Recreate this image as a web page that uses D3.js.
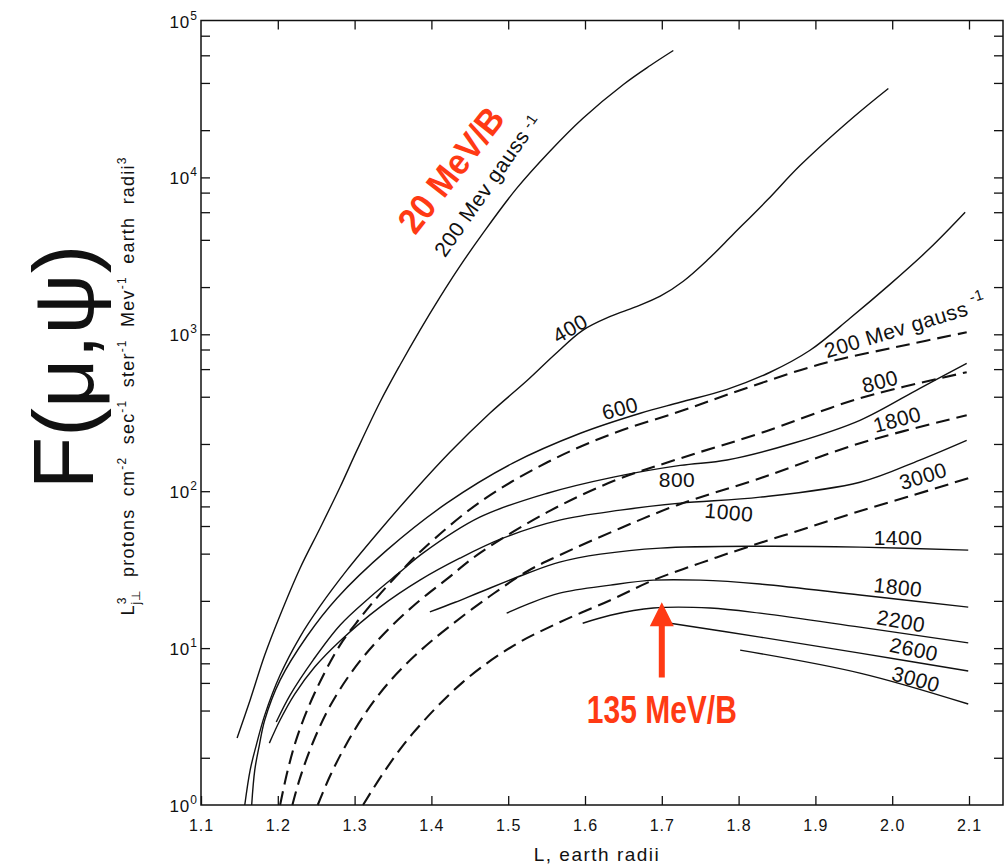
<!DOCTYPE html>
<html>
<head>
<meta charset="utf-8">
<script src="https://cdn.jsdelivr.net/npm/d3@7"></script>
<style>
  body { margin: 0; background: #fff; }
  svg { display: block; }
  text { font-family: "Liberation Sans", Arial, sans-serif; fill: #111; white-space: pre; }
</style>
</head>
<body>
<svg id="chart" width="1005" height="868"></svg>
<script>
// axis ticks
const xTicks = [1.1, 1.2, 1.3, 1.4, 1.5, 1.6, 1.7, 1.8, 1.9, 2.0, 2.1]
const yDecades = [1, 10, 100, 1000, 10000, 100000]
const yMinorSteps = [2, 4, 6, 8]

// curves: [L (earth radii), L^3 j flux]
// solid = constant mu (Mev gauss^-1)
const solid200 = [[1.147, 2.67], [1.164, 4.67], [1.183, 9.03], [1.203, 16.2], [1.229, 32.3], [1.255, 58.1], [1.281, 106], [1.303, 182], [1.333, 369], [1.359, 635], [1.385, 1060], [1.411, 1720], [1.437, 2710], [1.467, 4400], [1.511, 8510], [1.554, 14640], [1.597, 23760], [1.650, 39130], [1.685, 51680], [1.715, 64400]]
const solid400 = [[1.157, 1.0], [1.164, 1.67], [1.172, 2.41], [1.183, 3.74], [1.203, 6.73], [1.229, 11.8], [1.255, 18.5], [1.290, 31.4], [1.333, 56.4], [1.376, 98.5], [1.424, 177], [1.476, 314], [1.525, 509], [1.561, 746], [1.597, 1060], [1.633, 1300], [1.665, 1490], [1.698, 1750], [1.728, 2180], [1.759, 2960], [1.793, 4340], [1.837, 7140], [1.880, 11900], [1.949, 24100], [1.995, 36900]]
const solid600 = [[1.166, 1.0], [1.170, 1.67], [1.176, 2.41], [1.183, 3.48], [1.203, 6.25], [1.238, 11.9], [1.277, 20.8], [1.342, 42.1], [1.420, 83.9], [1.506, 151], [1.594, 234], [1.672, 314], [1.724, 369], [1.785, 446], [1.841, 573], [1.893, 791], [1.945, 1265], [1.997, 2080], [2.049, 3530], [2.095, 5990]]
const solid800 = [[1.198, 3.38], [1.216, 5.02], [1.246, 8.39], [1.281, 14.0], [1.320, 21.1], [1.359, 30.5], [1.389, 40.3], [1.463, 68.3], [1.551, 97.1], [1.637, 123], [1.724, 146], [1.785, 158], [1.871, 202], [1.958, 283], [2.036, 453], [2.097, 653]]
const solid1000 = [[1.189, 2.48], [1.203, 3.48], [1.222, 5.09], [1.248, 7.57], [1.281, 11.1], [1.333, 18.25], [1.385, 27.1], [1.437, 37.4], [1.493, 50.2], [1.567, 65.4], [1.646, 75.7], [1.724, 83.9], [1.828, 91.6], [1.958, 114], [2.036, 158], [2.097, 211]]
const solid1400 = [[1.398, 17.0], [1.431, 19.6], [1.463, 22.7], [1.525, 30.0], [1.567, 35.3], [1.620, 39.7], [1.698, 43.4], [1.828, 44.6], [1.958, 44.0], [2.099, 42.1]]
const solid1800 = [[1.498, 16.7], [1.528, 19.3], [1.567, 22.4], [1.633, 25.2], [1.689, 27.1], [1.750, 27.1], [1.828, 25.6], [1.958, 21.8], [2.099, 18.25]]
const solid2200 = [[1.597, 14.4], [1.633, 16.2], [1.689, 18.0], [1.763, 18.0], [1.828, 16.7], [1.958, 13.6], [2.099, 10.8]]
const solid2600 = [[1.711, 14.4], [1.828, 11.75], [1.958, 9.29], [2.099, 7.14]]
const solid3000 = [[1.802, 9.71], [1.958, 6.93], [2.099, 4.40]]
// dashed = constant energy (Mev)
const dashed200 = [[1.203, 1.0], [1.213, 1.67], [1.226, 2.79], [1.248, 5.17], [1.281, 10.45], [1.307, 15.5], [1.333, 22.1], [1.363, 31.85], [1.389, 42.7], [1.463, 85.1], [1.551, 153], [1.637, 234], [1.724, 323], [1.802, 440], [1.906, 644], [2.010, 839], [2.097, 1030]]
const dashed800 = [[1.219, 1.0], [1.229, 1.49], [1.246, 2.52], [1.268, 4.27], [1.298, 7.24], [1.333, 11.6], [1.376, 18.5], [1.420, 27.5], [1.463, 40.3], [1.551, 73.5], [1.637, 116], [1.724, 162], [1.828, 234], [1.958, 391], [2.097, 573]]
const dashed1800 = [[1.252, 1.0], [1.268, 1.53], [1.288, 2.38], [1.314, 3.85], [1.346, 6.16], [1.385, 9.57], [1.424, 13.8], [1.476, 21.4], [1.525, 30.9], [1.567, 39.1], [1.646, 58.1], [1.720, 81.5], [1.828, 121], [1.958, 202], [2.097, 305]]
const dashed3000 = [[1.311, 1.0], [1.340, 1.67], [1.376, 2.87], [1.441, 6.07], [1.506, 10.3], [1.567, 14.6], [1.633, 20.2], [1.689, 27.1], [1.750, 34.8], [1.811, 44.0], [1.880, 56.4], [1.949, 72.4], [2.023, 92.9], [2.099, 121]]

const solidCurves = [solid200, solid400, solid600, solid800, solid1000, solid1400, solid1800, solid2200, solid2600, solid3000]
const dashedCurves = [dashed200, dashed800, dashed1800, dashed3000]

// curve labels: text, anchor [L, F], rotation
const solidLabels = [
    ['400', 1.5805, 1092, -30],
    ['600', 1.6456, 338, -15],
    ['800', 1.7198, 119, 0],
    ['1000', 1.7875, 73.5, 5],
    ['1400', 2.0076, 50.9, 0],
    ['1800', 2.0076, 24.5, 6],
    ['2200', 2.0115, 14.9, 10],
    ['2600', 2.0284, 9.85, 12],
    ['3000', 2.031, 6.35, 15]
]
const dashedLabels = [
    ['800', 1.9841, 502, -15],
    ['1800', 2.0063, 287, -15],
    ['3000', 2.0401, 125, -17]
]

// layout
const frame = { left: 201, right: 1003, top: 20.5, bottom: 805 }
const red = '#ff3a14'

const svg = d3.select('#chart')

const x = d3.scaleLinear().domain([1.1, 2.1]).range([201, 969])
const y = d3.scaleLog().domain([1, 1e5]).range([frame.bottom, frame.top])

const yTickVals = yDecades.flatMap(d => d < 1e5 ? [d, ...yMinorSteps.map(s => s * d)] : [d])
const innerTicks = yTickVals.filter(v => v > 1 && v < 1e5)

// axes (inward ticks)
const styleAxis = g => {
    g.select('.domain').remove()
    g.selectAll('line').attr('stroke', '#111').attr('stroke-width', 1.3)
}

svg.append('g')
    .attr('transform', `translate(0,${frame.bottom})`)
    .call(d3.axisBottom(x).tickValues(xTicks).tickSize(-9).tickPadding(15)
        .tickFormat(d3.format('.1f')))
    .call(styleAxis)
    .call(g => g.selectAll('text')
        .style('font-size', '16px')
        .style('font-family', '"Liberation Sans", Arial, sans-serif')
        .style('letter-spacing', '1px')
        .attr('fill', '#111'))

svg.append('g')
    .attr('transform', `translate(0,${frame.top})`)
    .call(d3.axisTop(x).tickValues(xTicks.slice(1)).tickSize(-9).tickFormat(''))
    .call(styleAxis)

svg.append('g')
    .attr('transform', `translate(${frame.left},0)`)
    .call(d3.axisLeft(y).tickValues(innerTicks).tickSize(-9).tickFormat(''))
    .call(styleAxis)

svg.append('g')
    .attr('transform', `translate(${frame.right},0)`)
    .call(d3.axisRight(y).tickValues(innerTicks).tickSize(-9).tickFormat(''))
    .call(styleAxis)

svg.append('rect')
    .attr('x', frame.left)
    .attr('y', frame.top)
    .attr('width', frame.right - frame.left)
    .attr('height', frame.bottom - frame.top)
    .attr('fill', 'none')
    .attr('stroke', '#111')
    .attr('stroke-width', 1.5)

// decade labels 10^n
const yLab = svg.append('g')
    .selectAll('text')
    .data(yDecades)
    .enter()
    .append('text')
    .attr('x', frame.left - 3)
    .attr('y', d => y(d) + 7)
    .attr('text-anchor', 'end')
    .style('font-size', '17px')
    .style('letter-spacing', '1px')
yLab.append('tspan').text('10')
yLab.append('tspan')
    .attr('dy', -8)
    .style('font-size', '12px')
    .text(d => Math.round(Math.log10(d)))

// curves
const line = d3.line()
    .x(d => x(d[0]))
    .y(d => y(d[1]))
    .curve(d3.curveCatmullRom.alpha(0.5))

svg.append('g')
    .selectAll('path')
    .data(solidCurves)
    .enter()
    .append('path')
    .attr('d', line)
    .attr('fill', 'none')
    .attr('stroke', '#111')
    .attr('stroke-width', 1.4)

svg.append('g')
    .selectAll('path')
    .data(dashedCurves)
    .enter()
    .append('path')
    .attr('d', line)
    .attr('fill', 'none')
    .attr('stroke', '#111')
    .attr('stroke-width', 2.1)
    .attr('stroke-dasharray', '14,7')

// curve labels
const curveLabel = (g, d) => g.append('text')
    .attr('transform', `translate(${x(d[1])},${y(d[2])}) rotate(${d[3]})`)
    .attr('text-anchor', 'middle')
    .attr('dominant-baseline', 'central')
    .style('font-size', '21px')
    .style('letter-spacing', '0.5px')
    .text(d[0])

const labels = svg.append('g')
solidLabels.forEach(d => curveLabel(labels, d))
dashedLabels.forEach(d => curveLabel(labels, d))

// "200 Mev gauss^-1" labels
const gaussLabel = (px, py, angle, supDy) => {
    const t = svg.append('text')
        .attr('transform', `translate(${px},${py}) rotate(${angle})`)
        .style('font-size', '21px')
        .style('letter-spacing', '0.5px')
    t.append('tspan').text('200 Mev gauss')
    t.append('tspan').attr('dy', supDy).attr('dx', 5).style('font-size', '15px').text('-1')
}
gaussLabel(x(1.4177), y(3050), -55, -4)
gaussLabel(x(1.9151), y(703), -17, -11)

// axis titles
svg.append('text')
    .attr('x', (x(1.1) + x(2.1)) / 2 + 12)
    .attr('y', 861)
    .attr('text-anchor', 'middle')
    .style('font-size', '19px')
    .style('letter-spacing', '1.5px')
    .text('L, earth radii')

const yt = svg.append('text')
    .attr('transform', 'translate(134,386) rotate(-90)')
    .attr('text-anchor', 'middle')
    .style('font-size', '18px')
    .style('letter-spacing', '1.2px')
const part = (txt, dy, size, dx) => {
    const s = yt.append('tspan').text(txt)
    if (dy) s.attr('dy', dy)
    if (dx) s.attr('dx', dx)
    if (size) s.style('font-size', size)
}
part('L')
part('3', -8, '12px')
part('j\u22a5', 14, '12px', -8)
part('  protons  cm', -6)
part('-2', -8, '12px')
part('  sec', 8)
part('-1', -8, '12px')
part('  ster', 8)
part('-1', -8, '12px')
part('  Mev', 8)
part('-1', -8, '12px')
part('  earth  radii', 8)
part('3', -8, '12px')

svg.append('text')
    .attr('transform', 'translate(93,367) rotate(-90)')
    .attr('text-anchor', 'middle')
    .style('font-size', '86px')
    .text('F(\u03bc,\u03c8)')

// red annotations
svg.append('text')
    .attr('transform', 'translate(451,170) rotate(-52)')
    .attr('text-anchor', 'middle')
    .attr('dominant-baseline', 'central')
    .attr('textLength', 148)
    .attr('lengthAdjust', 'spacingAndGlyphs')
    .style('font-family', '"Liberation Sans Narrow", "Liberation Sans", Arial, sans-serif')
    .style('font-weight', 'bold')
    .style('font-size', '36px')
    .style('fill', red)
    .text('20 MeV/B')

const ax = x(1.7)
const tipY = y(19.6)
const baseY = y(6.5)
svg.append('path')
    .attr('d', `M${ax},${tipY} L${ax + 12},${tipY + 24} L${ax + 3},${tipY + 24} L${ax + 3},${baseY} L${ax - 3},${baseY} L${ax - 3},${tipY + 24} L${ax - 12},${tipY + 24} Z`)
    .attr('fill', red)

svg.append('text')
    .attr('x', ax)
    .attr('y', baseY + 46)
    .attr('text-anchor', 'middle')
    .attr('textLength', 150)
    .attr('lengthAdjust', 'spacingAndGlyphs')
    .style('font-family', '"Liberation Sans Narrow", "Liberation Sans", Arial, sans-serif')
    .style('font-weight', 'bold')
    .style('font-size', '38px')
    .style('fill', red)
    .text('135 MeV/B')
</script>
</body>
</html>
